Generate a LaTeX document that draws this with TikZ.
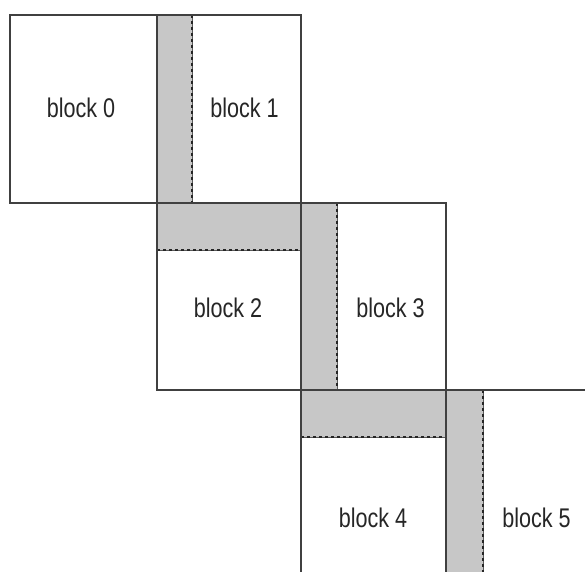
\documentclass[tikz,border=0pt]{standalone}
\usepackage{fontspec}
\setmainfont{Liberation Sans}
\begin{document}
\begin{tikzpicture}[x=1pt,y=-1pt,
  blockline/.style={draw=black!75,line width=1.6pt},
  halo/.style={fill=black!22},
  sepbase/.style={draw=black!65,line width=0.8pt},
  sep/.style={draw=black!85,line width=1.4pt,dash pattern=on 3pt off 3pt},
  lbl/.style={anchor=base,inner sep=0pt,font=\fontsize{27}{30}\selectfont,text=black!85}]
\useasboundingbox (0,0) rectangle (585,571);
\clip (0,0) rectangle (585,571);
% gray halo regions
\fill[halo] (157,15) rectangle (192,203);
\fill[halo] (157,203) rectangle (301,250);
\fill[halo] (301,203) rectangle (337,390);
\fill[halo] (301,390) rectangle (446,437);
\fill[halo] (446,390) rectangle (483,580);
% dashed separators
\coordinate (s1a) at (192,15);  \coordinate (s1b) at (192,203);
\coordinate (s2a) at (157,250); \coordinate (s2b) at (301,250);
\coordinate (s3a) at (337,203); \coordinate (s3b) at (337,390);
\coordinate (s4a) at (301,437); \coordinate (s4b) at (446,437);
\coordinate (s5a) at (483,390); \coordinate (s5b) at (483,580);
\foreach \a/\b in {s1a/s1b,s2a/s2b,s3a/s3b,s4a/s4b,s5a/s5b}{
  \draw[sepbase] (\a) -- (\b);
  \draw[sep] (\a) -- (\b);
}
% block outlines
\draw[blockline] (10,15) rectangle (157,203);
\draw[blockline] (157,15) rectangle (301,203);
\draw[blockline] (157,203) rectangle (301,390);
\draw[blockline] (301,203) rectangle (446,390);
\draw[blockline] (301,390) rectangle (446,590);
\draw[blockline] (446,390) rectangle (620,590);
% labels
\node[lbl] (l0) at (81,117) {\scalebox{0.8}[1]{block 0}};
\node[lbl] (l1) at (244.5,117) {\scalebox{0.8}[1]{block 1}};
\node[lbl] (l2) at (228,317) {\scalebox{0.8}[1]{block 2}};
\node[lbl] (l3) at (390.5,317) {\scalebox{0.8}[1]{block 3}};
\node[lbl] (l4) at (373,527) {\scalebox{0.8}[1]{block 4}};
\node[lbl] (l5) at (536.5,527) {\scalebox{0.8}[1]{block 5}};
\end{tikzpicture}
\end{document}
